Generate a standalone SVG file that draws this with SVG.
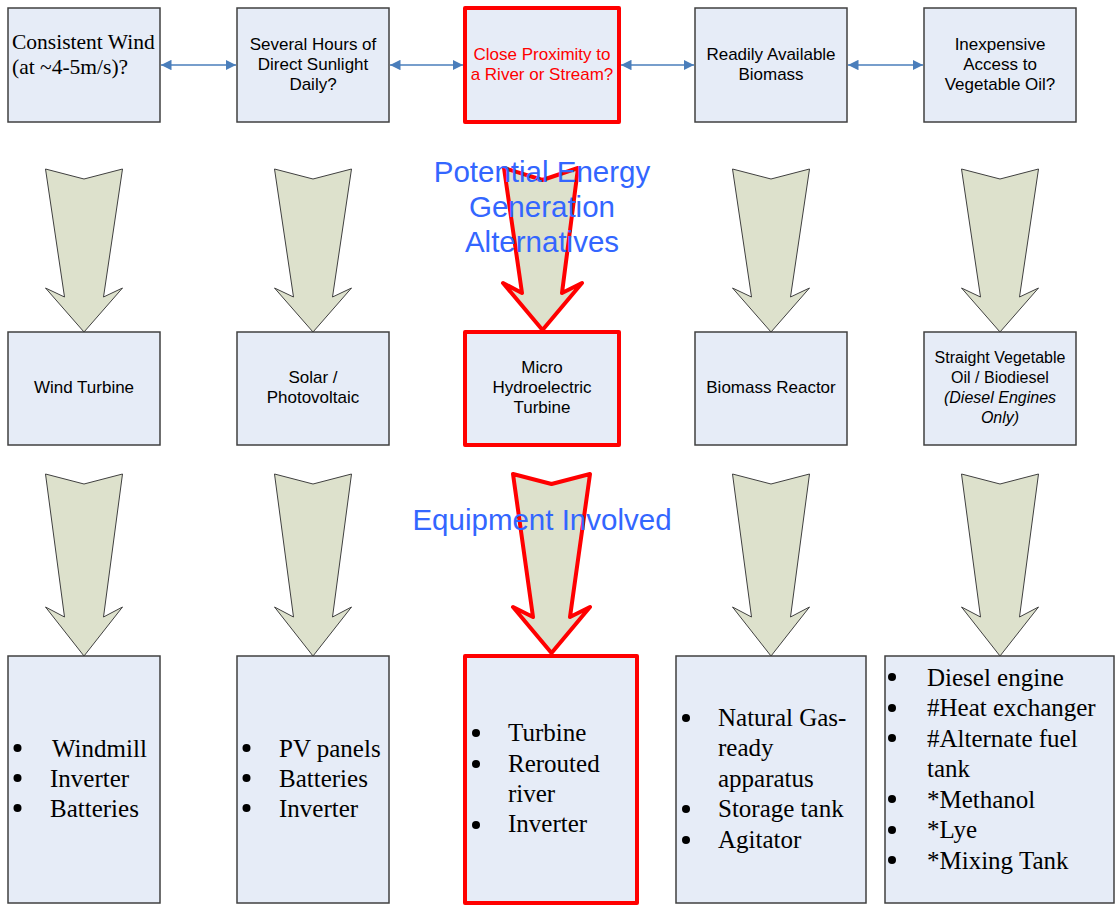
<svg xmlns="http://www.w3.org/2000/svg" width="1115" height="907" viewBox="0 0 1115 907">
<style>
.box{fill:#E6ECF7;stroke:#404040;stroke-width:1.5}
.rbox{fill:#E6ECF7;stroke:#FF0000;stroke-width:4;stroke-linejoin:round}
.arr{fill:#DDE1CC;stroke:#404040;stroke-width:1}
.rarr{fill:#DDE1CC;stroke:#FF0000;stroke-width:4;stroke-linejoin:round}
.s{font-family:"Liberation Sans",Arial,sans-serif;font-size:17px;fill:#000;text-anchor:middle}
.sr{font-family:"Liberation Sans",Arial,sans-serif;font-size:17px;fill:#FF0000;text-anchor:middle}
.t{font-family:"Liberation Serif","Times New Roman",serif;font-size:25px;fill:#000}
.big{font-family:"Liberation Sans",Arial,sans-serif;font-size:29.5px;fill:#3366FF;text-anchor:middle}
.con{stroke:#4A7EBB;stroke-width:1.5;fill:none;marker-start:url(#ah);marker-end:url(#ah)}
.bul{fill:#000}
</style>
<defs>
<marker id="ah" viewBox="0 0 10 10" refX="10" refY="5" markerWidth="7" markerHeight="7" orient="auto-start-reverse" markerUnits="strokeWidth">
<path d="M0,0 L10,5 L0,10 Z" fill="#4A7EBB"/>
</marker>
</defs>
<rect width="1115" height="907" fill="#FFFFFF"/>

<g id="connectors">
<line class="con" x1="161" y1="65" x2="236" y2="65"/>
<line class="con" x1="390" y1="65" x2="463" y2="65"/>
<line class="con" x1="621" y1="65" x2="694" y2="65"/>
<line class="con" x1="848" y1="65" x2="923" y2="65"/>
</g>

<g id="arrows">
<polygon class="arr" points="45.5,169 84,179 122.5,169 103.5,297 122.5,288 84,332 45.5,288 64.5,297"/>
<polygon class="arr" points="274.5,169 313,179 351.5,169 332.5,297 351.5,288 313,332 274.5,288 293.5,297"/>
<polygon class="arr" points="732.5,169 771,179 809.5,169 790.5,297 809.5,288 771,332 732.5,288 751.5,297"/>
<polygon class="arr" points="961.5,169 1000,179 1038.5,169 1019.5,297 1038.5,288 1000,332 961.5,288 980.5,297"/>
<polygon class="rarr" points="504,168 542.5,180 578,168 562,293 582,283 542.5,330 503,283 522,293"/>
<polygon class="arr" points="45.5,474 84,484 122.5,474 103.5,617 122.5,607 84,656 45.5,607 64.5,617"/>
<polygon class="arr" points="274.5,474 313,484 351.5,474 332.5,617 351.5,607 313,656 274.5,607 293.5,617"/>
<polygon class="arr" points="732.5,474 771,484 809.5,474 790.5,617 809.5,607 771,656 732.5,607 751.5,617"/>
<polygon class="arr" points="961.5,474 1000,484 1038.5,474 1019.5,617 1038.5,607 1000,656 961.5,607 980.5,617"/>
<polygon class="rarr" points="513,474 551.5,484 590,474 570,617 590,607 551.5,653 513,607 533,617"/>
</g>

<g id="wind-q">
<rect class="box" x="8" y="8" width="152" height="114"/>
<text class="t" style="font-size:21.5px" x="12" y="49">Consistent Wind</text>
<text class="t" style="font-size:21.5px" x="12" y="74">(at ~4-5m/s)?</text>
</g>
<g id="sun-q">
<rect class="box" x="237" y="8" width="152" height="114"/>
<text class="s" x="313" y="50">Several Hours of</text>
<text class="s" x="313" y="70">Direct Sunlight</text>
<text class="s" x="313" y="90">Daily?</text>
</g>
<g id="river-q">
<rect class="rbox" x="465" y="8" width="154" height="114"/>
<text class="sr" x="542" y="60">Close Proximity to</text>
<text class="sr" x="542" y="80">a River or Stream?</text>
</g>
<g id="biomass-q">
<rect class="box" x="695" y="8" width="152" height="114"/>
<text class="s" x="771" y="60">Readily Available</text>
<text class="s" x="771" y="80">Biomass</text>
</g>
<g id="oil-q">
<rect class="box" x="924" y="8" width="152" height="114"/>
<text class="s" x="1000" y="50">Inexpensive</text>
<text class="s" x="1000" y="70">Access to</text>
<text class="s" x="1000" y="90">Vegetable Oil?</text>
</g>

<g id="wind-turbine">
<rect class="box" x="8" y="332" width="152" height="113"/>
<text class="s" x="84" y="393">Wind Turbine</text>
</g>
<g id="solar">
<rect class="box" x="237" y="332" width="152" height="113"/>
<text class="s" x="313" y="383">Solar /</text>
<text class="s" x="313" y="403">Photovoltaic</text>
</g>
<g id="micro-hydro">
<rect class="rbox" x="465" y="332" width="154" height="113"/>
<text class="s" x="542" y="373">Micro</text>
<text class="s" x="542" y="393">Hydroelectric</text>
<text class="s" x="542" y="413">Turbine</text>
</g>
<g id="biomass-reactor">
<rect class="box" x="695" y="332" width="152" height="113"/>
<text class="s" x="771" y="393">Biomass Reactor</text>
</g>
<g id="svo">
<rect class="box" x="924" y="332" width="152" height="113"/>
<text class="s" style="font-size:16px" x="1000" y="363">Straight Vegetable</text>
<text class="s" style="font-size:16px" x="1000" y="383">Oil / Biodiesel</text>
<text class="s" style="font-size:16px;font-style:italic" x="1000" y="403">(Diesel Engines</text>
<text class="s" style="font-size:16px;font-style:italic" x="1000" y="423">Only)</text>
</g>

<g id="wind-equip">
<rect class="box" x="8" y="656" width="152" height="247"/>
<circle class="bul" cx="17.5" cy="748" r="4"/>
<circle class="bul" cx="17.5" cy="778" r="4"/>
<circle class="bul" cx="17.5" cy="808" r="4"/>
<text class="t" x="52" y="757">Windmill</text>
<text class="t" x="50" y="787">Inverter</text>
<text class="t" x="50" y="817">Batteries</text>
</g>
<g id="solar-equip">
<rect class="box" x="237" y="656" width="152" height="247"/>
<circle class="bul" cx="246.5" cy="748" r="4"/>
<circle class="bul" cx="246.5" cy="778" r="4"/>
<circle class="bul" cx="246.5" cy="808" r="4"/>
<text class="t" x="279" y="757">PV panels</text>
<text class="t" x="279" y="787">Batteries</text>
<text class="t" x="279" y="817">Inverter</text>
</g>
<g id="hydro-equip">
<rect class="rbox" x="465" y="656" width="172" height="247"/>
<circle class="bul" cx="476" cy="733" r="4"/>
<circle class="bul" cx="476" cy="764" r="4"/>
<circle class="bul" cx="476" cy="825" r="4"/>
<text class="t" x="508" y="741">Turbine</text>
<text class="t" x="508" y="772">Rerouted</text>
<text class="t" x="508" y="802">river</text>
<text class="t" x="508" y="832">Inverter</text>
</g>
<g id="biomass-equip">
<rect class="box" x="676" y="656" width="190" height="247"/>
<circle class="bul" cx="686" cy="718" r="4"/>
<circle class="bul" cx="686" cy="809" r="4"/>
<circle class="bul" cx="686" cy="840" r="4"/>
<text class="t" x="718" y="726">Natural Gas-</text>
<text class="t" x="718" y="756">ready</text>
<text class="t" x="718" y="787">apparatus</text>
<text class="t" x="718" y="817">Storage tank</text>
<text class="t" x="718" y="848">Agitator</text>
</g>
<g id="svo-equip">
<rect class="box" x="885" y="656" width="229" height="247"/>
<circle class="bul" cx="892" cy="677" r="4"/>
<circle class="bul" cx="892" cy="708" r="4"/>
<circle class="bul" cx="892" cy="738" r="4"/>
<circle class="bul" cx="892" cy="799" r="4"/>
<circle class="bul" cx="892" cy="830" r="4"/>
<circle class="bul" cx="892" cy="860" r="4"/>
<text class="t" x="927" y="686">Diesel engine</text>
<text class="t" x="927" y="716">#Heat exchanger</text>
<text class="t" x="927" y="747">#Alternate fuel</text>
<text class="t" x="927" y="777">tank</text>
<text class="t" x="927" y="808">*Methanol</text>
<text class="t" x="927" y="838">*Lye</text>
<text class="t" x="927" y="869">*Mixing Tank</text>
</g>

<g id="labels">
<text class="big" x="542" y="182">Potential Energy</text>
<text class="big" x="542" y="217">Generation</text>
<text class="big" x="542" y="252">Alternatives</text>
<text class="big" x="542" y="530">Equipment Involved</text>
</g>
</svg>
